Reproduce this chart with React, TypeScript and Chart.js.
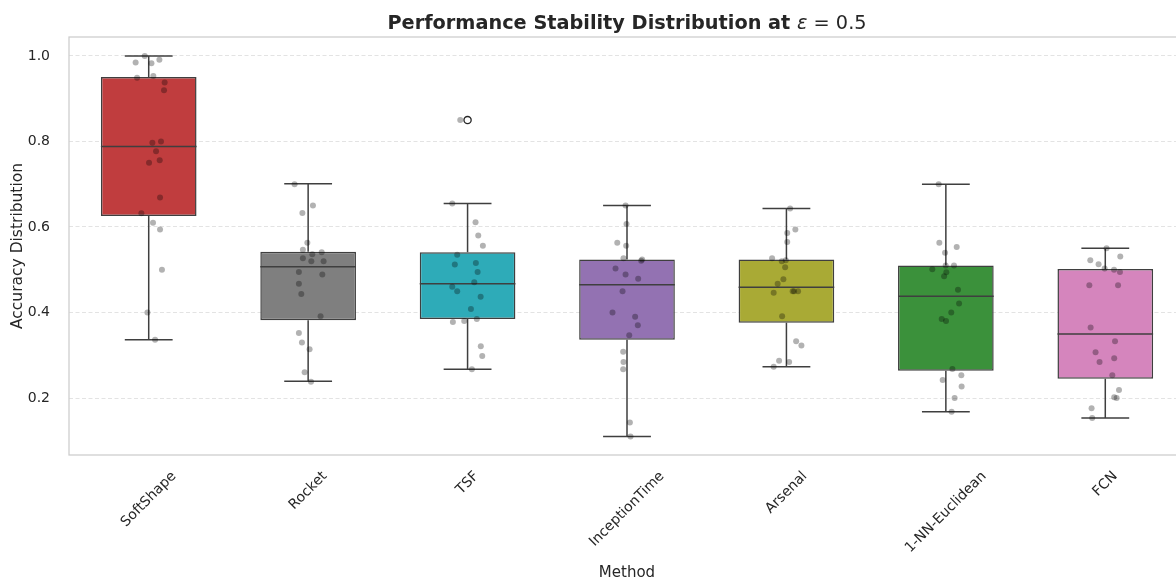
import React, { useEffect, useRef } from "react";
import { Chart, registerables } from "chart.js";

Chart.register(...registerables);

const FONT = '"DejaVu Sans", sans-serif';
const TEXT = "#262626";

const methods = ["SoftShape", "Rocket", "TSF", "InceptionTime", "Arsenal", "1-NN-Euclidean", "FCN"];
const boxColors = ["#c03d3e", "#7f7f7f", "#2eabb8", "#9372b2", "#a9aa35", "#3b913b", "#d585bd"];

// box statistics
const q1 = [0.626, 0.382, 0.385, 0.336, 0.376, 0.264, 0.245];
const median = [0.788, 0.507, 0.467, 0.465, 0.459, 0.438, 0.35];
const q3 = [0.951, 0.542, 0.541, 0.524, 0.524, 0.51, 0.502];
const whiskerLow = [0.336, 0.239, 0.267, 0.11, 0.273, 0.168, 0.153];
const whiskerHigh = [1.0, 0.701, 0.655, 0.65, 0.643, 0.7, 0.55];

// fliers
const outlierMethod = [2];
const outlierValue = [0.85];

const yTicks = [0.2, 0.4, 0.6, 0.8, 1.0];

// individual accuracies (strip plot) and their jitter
const softShapeAcc = [1.0, 0.985, 0.983, 0.991, 0.949, 0.953, 0.938, 0.92, 0.797, 0.8, 0.777, 0.75, 0.756, 0.669, 0.632, 0.61, 0.594, 0.5, 0.4, 0.336];
const softShapeJit = [-0.025, -0.082, 0.017, 0.067, -0.073, 0.029, 0.1, 0.096, 0.023, 0.077, 0.046, 0.002, 0.069, 0.071, -0.046, 0.027, 0.071, 0.083, -0.008, 0.04];
const rocketAcc = [0.7, 0.65, 0.633, 0.563, 0.547, 0.536, 0.541, 0.527, 0.52, 0.52, 0.495, 0.489, 0.467, 0.443, 0.391, 0.352, 0.33, 0.314, 0.26, 0.238];
const rocketJit = [-0.085, 0.03, -0.036, -0.005, -0.033, 0.026, 0.085, -0.033, 0.02, 0.097, -0.058, 0.089, -0.058, -0.043, 0.078, -0.058, -0.039, 0.009, -0.022, 0.018];
const tsfAcc = [0.85, 0.655, 0.611, 0.58, 0.556, 0.535, 0.512, 0.516, 0.495, 0.471, 0.46, 0.45, 0.437, 0.408, 0.385, 0.378, 0.38, 0.321, 0.298, 0.267];
const tsfJit = [-0.046, -0.096, 0.05, 0.067, 0.096, -0.065, -0.08, 0.052, 0.063, 0.042, -0.096, -0.065, 0.082, 0.021, 0.058, -0.092, -0.021, 0.083, 0.092, 0.027];
const inceptionAcc = [0.65, 0.607, 0.563, 0.556, 0.527, 0.524, 0.521, 0.503, 0.489, 0.479, 0.45, 0.4, 0.39, 0.37, 0.347, 0.308, 0.284, 0.267, 0.143, 0.11];
const inceptionJit = [-0.009, -0.003, -0.061, -0.005, -0.022, 0.095, 0.089, -0.072, -0.009, 0.07, -0.028, -0.091, 0.051, 0.068, 0.014, -0.024, -0.022, -0.024, 0.018, 0.022];
const arsenalAcc = [0.643, 0.594, 0.586, 0.565, 0.527, 0.52, 0.522, 0.506, 0.478, 0.467, 0.446, 0.45, 0.45, 0.45, 0.391, 0.333, 0.323, 0.287, 0.284, 0.273];
const arsenalJit = [0.023, 0.056, 0.005, 0.005, -0.09, -0.029, -0.004, -0.008, -0.019, -0.055, -0.08, 0.039, 0.048, 0.073, -0.027, 0.061, 0.094, -0.046, 0.017, -0.08];
const nnAcc = [0.7, 0.563, 0.553, 0.54, 0.51, 0.51, 0.501, 0.494, 0.485, 0.453, 0.421, 0.4, 0.385, 0.38, 0.268, 0.253, 0.242, 0.227, 0.2, 0.168];
const nnJit = [-0.045, -0.041, 0.068, -0.005, -0.001, 0.051, -0.085, 0.003, -0.011, 0.076, 0.083, 0.034, -0.026, 0.001, 0.041, 0.097, -0.02, 0.099, 0.055, 0.036];
const fcnAcc = [0.55, 0.531, 0.522, 0.513, 0.503, 0.5, 0.495, 0.464, 0.464, 0.365, 0.333, 0.307, 0.293, 0.284, 0.253, 0.219, 0.202, 0.2, 0.176, 0.153];
const fcnJit = [0.008, 0.094, -0.094, -0.042, -0.004, 0.055, 0.092, -0.1, 0.08, -0.092, 0.061, -0.061, 0.056, -0.036, 0.044, 0.086, 0.056, 0.071, -0.086, -0.082];

export default function App() {
  const ref = useRef<HTMLCanvasElement>(null);

  useEffect(() => {
    const canvas = ref.current;
    if (!canvas) return;
    const allAcc = [softShapeAcc, rocketAcc, tsfAcc, inceptionAcc, arsenalAcc, nnAcc, fcnAcc];
    const allJit = [softShapeJit, rocketJit, tsfJit, inceptionJit, arsenalJit, nnJit, fcnJit];
    const points = allAcc.flatMap((arr, i) => arr.map((v, j) => ({ x: i + allJit[i][j], y: v })));
    const outliers = outlierMethod.map((m, k) => ({ x: m, y: outlierValue[k] }));
    const boxes = methods.map((_, i) => ({ x: i, y: [q1[i], q3[i]] }));

    const boxPlugin = {
      id: "boxParts",
      afterDatasetDraw(chart: any, args: any) {
        if (args.meta.type !== "bar") return;
        const { ctx, scales, chartArea } = chart;
        const xs = scales.x;
        const ys = scales.y;
        ctx.save();
        ctx.beginPath();
        ctx.rect(chartArea.left, chartArea.top, chartArea.right - chartArea.left, chartArea.bottom - chartArea.top);
        ctx.clip();
        ctx.strokeStyle = "#3f3f3f";
        ctx.lineWidth = 1.5;
        methods.forEach((_, i) => {
          const cx = xs.getPixelForValue(i);
          const bl = xs.getPixelForValue(i - 0.3);
          const br = xs.getPixelForValue(i + 0.3);
          const cl = xs.getPixelForValue(i - 0.15);
          const cr = xs.getPixelForValue(i + 0.15);
          const yq1 = ys.getPixelForValue(q1[i]);
          const yq3 = ys.getPixelForValue(q3[i]);
          const ylo = ys.getPixelForValue(whiskerLow[i]);
          const yhi = ys.getPixelForValue(whiskerHigh[i]);
          const ymed = ys.getPixelForValue(median[i]);
          ctx.beginPath();
          ctx.moveTo(cx, yq3);
          ctx.lineTo(cx, yhi);
          ctx.moveTo(cx, yq1);
          ctx.lineTo(cx, ylo);
          ctx.moveTo(cl, yhi);
          ctx.lineTo(cr, yhi);
          ctx.moveTo(cl, ylo);
          ctx.lineTo(cr, ylo);
          ctx.moveTo(bl, ymed);
          ctx.lineTo(br, ymed);
          ctx.stroke();
        });
        ctx.restore();
      },
      afterDraw(chart: any) {
        const { ctx, scales, chartArea } = chart;
        const xs = scales.x;
        ctx.save();
        // frame
        ctx.strokeStyle = "#cccccc";
        ctx.lineWidth = 1.25;
        ctx.strokeRect(chartArea.left, chartArea.top, chartArea.right - chartArea.left, chartArea.bottom - chartArea.top);
        // x tick labels, rotated 45°, centred under the tick
        ctx.fillStyle = TEXT;
        ctx.font = `14px ${FONT}`;
        ctx.textAlign = "center";
        ctx.textBaseline = "middle";
        const h = 11.5;
        methods.forEach((m, i) => {
          const w = ctx.measureText(m).width;
          const side = (w + h) * Math.SQRT1_2;
          const cx = xs.getPixelForValue(i);
          const cy = chartArea.bottom + 15 + side / 2;
          ctx.save();
          ctx.translate(cx, cy);
          ctx.rotate(-Math.PI / 4);
          ctx.fillText(m, 0, 0);
          ctx.restore();
        });
        // title
        const parts = [
          { t: "Performance Stability Distribution at ", f: `bold 19.3px ${FONT}` },
          { t: "ε", f: `italic 19.3px ${FONT}` },
          { t: " = 0.5", f: `19.3px ${FONT}` },
        ];
        let total = 0;
        const widths = parts.map((p) => {
          ctx.font = p.f;
          const w = ctx.measureText(p.t).width;
          total += w;
          return w;
        });
        let x = (chartArea.left + chartArea.right) / 2 - total / 2;
        ctx.textAlign = "left";
        ctx.textBaseline = "alphabetic";
        parts.forEach((p, k) => {
          ctx.font = p.f;
          ctx.fillText(p.t, x, 28.5);
          x += widths[k];
        });
        ctx.restore();
      },
    };

    const chart = new Chart(canvas, {
      type: "bar",
      data: {
        datasets: [
          {
            type: "scatter",
            label: "Accuracy",
            data: points,
            backgroundColor: "rgba(0,0,0,0.3)",
            borderWidth: 0,
            pointRadius: 3,
            order: 0,
          } as any,
          {
            type: "scatter",
            label: "Outliers",
            data: outliers,
            backgroundColor: "rgba(0,0,0,0)",
            borderColor: "#262626",
            borderWidth: 1.3,
            pointRadius: 3.6,
            order: 0,
          } as any,
          {
            type: "bar",
            label: "IQR",
            data: boxes,
            backgroundColor: boxColors,
            borderColor: "#3f3f3f",
            borderWidth: 1.5,
            borderSkipped: false,
            barPercentage: 0.6,
            categoryPercentage: 1,
            order: 1,
          } as any,
        ],
      },
      options: {
        responsive: false,
        animation: false,
        devicePixelRatio: 1,
        layout: { padding: { top: 37, right: 70, left: 0, bottom: 0 } },
        plugins: {
          legend: { display: false },
          tooltip: { enabled: false },
          title: { display: false },
        },
        scales: {
          x: {
            type: "linear",
            min: -0.5,
            max: 6.5,
            offset: false,
            afterBuildTicks: (s: any) => {
              s.ticks = methods.map((_, i) => ({ value: i }));
            },
            grid: { display: false, offset: false },
            border: { display: false },
            ticks: { display: false },
            title: {
              display: true,
              text: "Method",
              color: TEXT,
              font: { family: FONT, size: 15 },
              padding: { top: 0, bottom: -4 },
            },
            afterFit: (s: any) => {
              s.height = 123;
            },
          },
          y: {
            type: "linear",
            min: 0.0667,
            max: 1.0444,
            afterBuildTicks: (s: any) => {
              s.ticks = yTicks.map((v) => ({ value: v }));
            },
            ticks: {
              callback: (v: any) => Number(v).toFixed(1),
              padding: 19,
              color: TEXT,
              font: { family: FONT, size: 14 },
            },
            grid: { color: "#e3e3e3", lineWidth: 1, drawTicks: false },
            border: { display: false, dash: [4, 2.5] },
            title: {
              display: true,
              text: "Accuracy Distribution",
              color: TEXT,
              font: { family: FONT, size: 15.5 },
              padding: { top: 9, bottom: 0 },
            },
            afterFit: (s: any) => {
              s.width = 69;
            },
          },
        },
      } as any,
      plugins: [boxPlugin],
    });
    return () => chart.destroy();
  }, []);

  return (
    <div style={{ position: "absolute", left: 0, top: 0, width: 1176, height: 578, overflow: "hidden", background: "#fff" }}>
      <canvas ref={ref} width={1255} height={578} style={{ display: "block" }} />
    </div>
  );
}
